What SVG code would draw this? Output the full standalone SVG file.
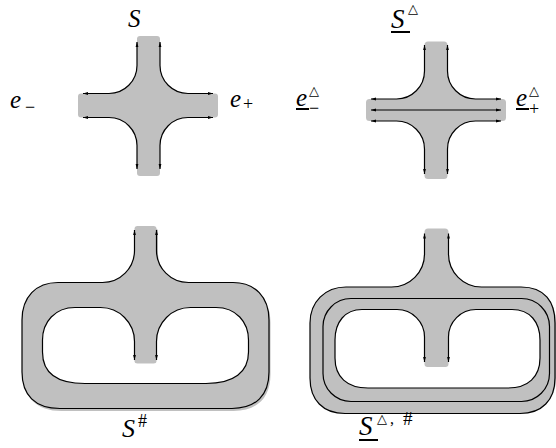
<svg xmlns="http://www.w3.org/2000/svg" width="556" height="448" viewBox="0 0 556 448">
<style>
.fill{fill:#c0c0c0;stroke:none}
.hole{fill:#ffffff;stroke:none}
.ln{fill:none;stroke:#000;stroke-width:1.2;stroke-linejoin:round}
.arr{marker-start:url(#ah);marker-end:url(#ah)}
.mi{font-family:'Liberation Serif',serif;font-style:italic}
.mr{font-family:'Liberation Serif',serif;font-style:normal}
</style>
<defs>
<marker id="ah" markerUnits="userSpaceOnUse" viewBox="0 0 5 4" markerWidth="5" markerHeight="4" refX="5" refY="2" orient="auto-start-reverse">
<path d="M0,0.6 L5,2 L0,3.4 Z" fill="#000"/>
</marker>
</defs>

<g id="node-S">
<path class="fill" d="M137,39 Q137,36 140,36 H157 Q160,36 160,39 V65.5 A28,28 0 0 0 188,93.5 H215 Q218,93.5 218,96.5 V114.5 Q218,117.5 215,117.5 H188 A28,28 0 0 0 160,145.5 V173 Q160,176 157,176 H140 Q137,176 137,173 V145.5 A28,28 0 0 0 109,117.5 H81 Q78,117.5 78,114.5 V96.5 Q78,93.5 81,93.5 H109 A28,28 0 0 0 137,65.5 Z"/>
<path class="ln arr" d="M137,42 V65.5 A28,28 0 0 1 109,93.5 H83"/>
<path class="ln arr" d="M160,42 V65.5 A28,28 0 0 0 188,93.5 H213"/>
<path class="ln arr" d="M137,169 V145.5 A28,28 0 0 0 109,117.5 H83"/>
<path class="ln arr" d="M160,169 V145.5 A28,28 0 0 1 188,117.5 H213"/>
<text class="mi" font-size="25" x="128" y="27">S</text>
<text class="mi" font-size="25" x="10" y="108">e</text>
<text class="mr" font-size="18" x="25" y="113">−</text>
<text class="mi" font-size="25" x="230" y="107">e</text>
<text class="mr" font-size="18" x="243" y="110">+</text>
</g>

<g id="node-S-tri">
<path class="fill" d="M424.5,45 Q424.5,41.5 428,41.5 H444 Q447.5,41.5 447.5,45 V71 A28,28 0 0 0 475.5,99 H502.5 Q506,99 506,102.5 V117.5 Q506,121 502.5,121 H475.5 A28,28 0 0 0 447.5,149 V175.5 Q447.5,179 444,179 H428 Q424.5,179 424.5,175.5 V149 A28,28 0 0 0 396.5,121 H369.5 Q366,121 366,117.5 V102.5 Q366,99 369.5,99 H396.5 A28,28 0 0 0 424.5,71 Z"/>
<path class="ln arr" d="M424.5,45 V71 A28,28 0 0 1 396.5,99 H371"/>
<path class="ln arr" d="M447.5,45 V71 A28,28 0 0 0 475.5,99 H501"/>
<path class="ln arr" d="M424.5,174 V149 A28,28 0 0 0 396.5,121 H371"/>
<path class="ln arr" d="M447.5,174 V149 A28,28 0 0 1 475.5,121 H501"/>
<path class="ln arr" d="M371,110 H501"/>
<text class="mi" font-size="27" x="391" y="28">S</text>
<text class="mi" font-size="25" x="296" y="106">e</text>
<text class="mr" font-size="18" x="309" y="114">−</text>
<text class="mi" font-size="25" x="516" y="106">e</text>
<text class="mr" font-size="18" x="529" y="115">+</text>
<g font-family="'DejaVu Sans', sans-serif" font-size="13" fill="#000">
<text x="408" y="13">△</text>
<text x="309" y="95">△</text>
<text x="529" y="95">△</text>
</g>
<rect x="391" y="31" width="19" height="2" fill="#000"/>
<rect x="296" y="108" width="13" height="2" fill="#000"/>
<rect x="516" y="108" width="13" height="2" fill="#000"/>
</g>

<g id="node-S-sharp">
<path class="fill" transform="translate(1.5,2.5)" d="M134.5,229 Q134.5,226 137.5,226 H153.5 Q156.5,226 156.5,229 V250.5 A32,32 0 0 0 188.5,282.5 H233 C255,282.5 269,297 269,320 V372 C269,395 256,408.5 232,408.5 H60 C35,408.5 22,395 22,372 V320 C22,297 36,282.5 58,282.5 H102.5 A32,32 0 0 0 134.5,250.5 Z"/>
<path class="fill" d="M134.5,229 Q134.5,226 137.5,226 H153.5 Q156.5,226 156.5,229 V250.5 A32,32 0 0 0 188.5,282.5 H233 C255,282.5 269,297 269,320 V372 C269,395 256,408.5 232,408.5 H60 C35,408.5 22,395 22,372 V320 C22,297 36,282.5 58,282.5 H102.5 A32,32 0 0 0 134.5,250.5 Z"/>
<path class="hole" d="M134.5,360 V341.5 A34,34 0 0 0 100.5,307.5 H75 C55,307.5 42.5,322 42.5,340 V352 C42.5,372 56,383.5 85,383.5 H206 C234,383.5 248.5,372 248.5,352 V340 C248.5,322 236,307.5 216,307.5 H190.5 A34,34 0 0 0 156.5,341.5 V361 Q156.5,363.5 153.5,363.5 H137.5 Q134.5,363.5 134.5,361 Z"/>
<path class="ln arr" d="M134.5,230 V250.5 A32,32 0 0 1 102.5,282.5 H58 C36,282.5 22,297 22,320 V372 C22,395 35,408.5 60,408.5 H232 C256,408.5 269,395 269,372 V320 C269,297 255,282.5 233,282.5 H188.5 A32,32 0 0 1 156.5,250.5 V230"/>
<path class="ln arr" d="M134.5,360 V341.5 A34,34 0 0 0 100.5,307.5 H75 C55,307.5 42.5,322 42.5,340 V352 C42.5,372 56,383.5 85,383.5 H206 C234,383.5 248.5,372 248.5,352 V340 C248.5,322 236,307.5 216,307.5 H190.5 A34,34 0 0 0 156.5,341.5 V360"/>
<text class="mi" font-size="26" x="122" y="437">S</text>
<text class="mr" font-size="18" x="138" y="427">#</text>
</g>

<g id="node-S-tri-sharp">
<path class="fill" d="M424.5,232 Q424.5,228.5 428,228.5 H445 Q448.5,228.5 448.5,232 V254 A33,33 0 0 0 481.5,287 H521 C545,287 556,302 556,323 V378 C556,400 542,413.5 520,413.5 H345 C323,413.5 310,400 310,378 V323 C310,302 325,287 346,287 H391.5 A33,33 0 0 0 424.5,254 Z"/>
<path class="hole" d="M424.5,362 V337 A27.5,27.5 0 0 0 397,309.5 H362 C345,309.5 335,322 335,340 V358 C335,377 347,388 368,388 H508 C528,388 540,377 540,358 V340 C540,322 530,309.5 512,309.5 H476 A27.5,27.5 0 0 0 448.5,337 V364 Q448.5,367 445.5,367 H427.5 Q424.5,367 424.5,364 Z"/>
<path class="ln arr" d="M424.5,233.5 V254 A33,33 0 0 1 391.5,287 H346 C325,287 310,302 310,323 V378 C310,400 323,413.5 345,413.5 H520 C542,413.5 555,400 555,378 V323 C555,302 545,287 521,287 H481.5 A33,33 0 0 1 448.5,254 V233.5"/>
<rect class="ln" x="323" y="298.5" width="226.5" height="103" rx="28" ry="28"/>
<path class="ln arr" d="M424.5,362 V337 A27.5,27.5 0 0 0 397,309.5 H362 C345,309.5 335,322 335,340 V358 C335,377 347,388 368,388 H508 C528,388 540,377 540,358 V340 C540,322 530,309.5 512,309.5 H476 A27.5,27.5 0 0 0 448.5,337 V362"/>
<text class="mi" font-size="27" x="359" y="435">S</text>
<text class="mr" font-size="16" x="390" y="424">,</text>
<text class="mr" font-size="19" x="403" y="425">#</text>
<text font-family="'DejaVu Sans', sans-serif" font-size="13" x="377" y="423">△</text>
<rect x="359" y="439" width="19" height="2" fill="#000"/>
</g>
</svg>
